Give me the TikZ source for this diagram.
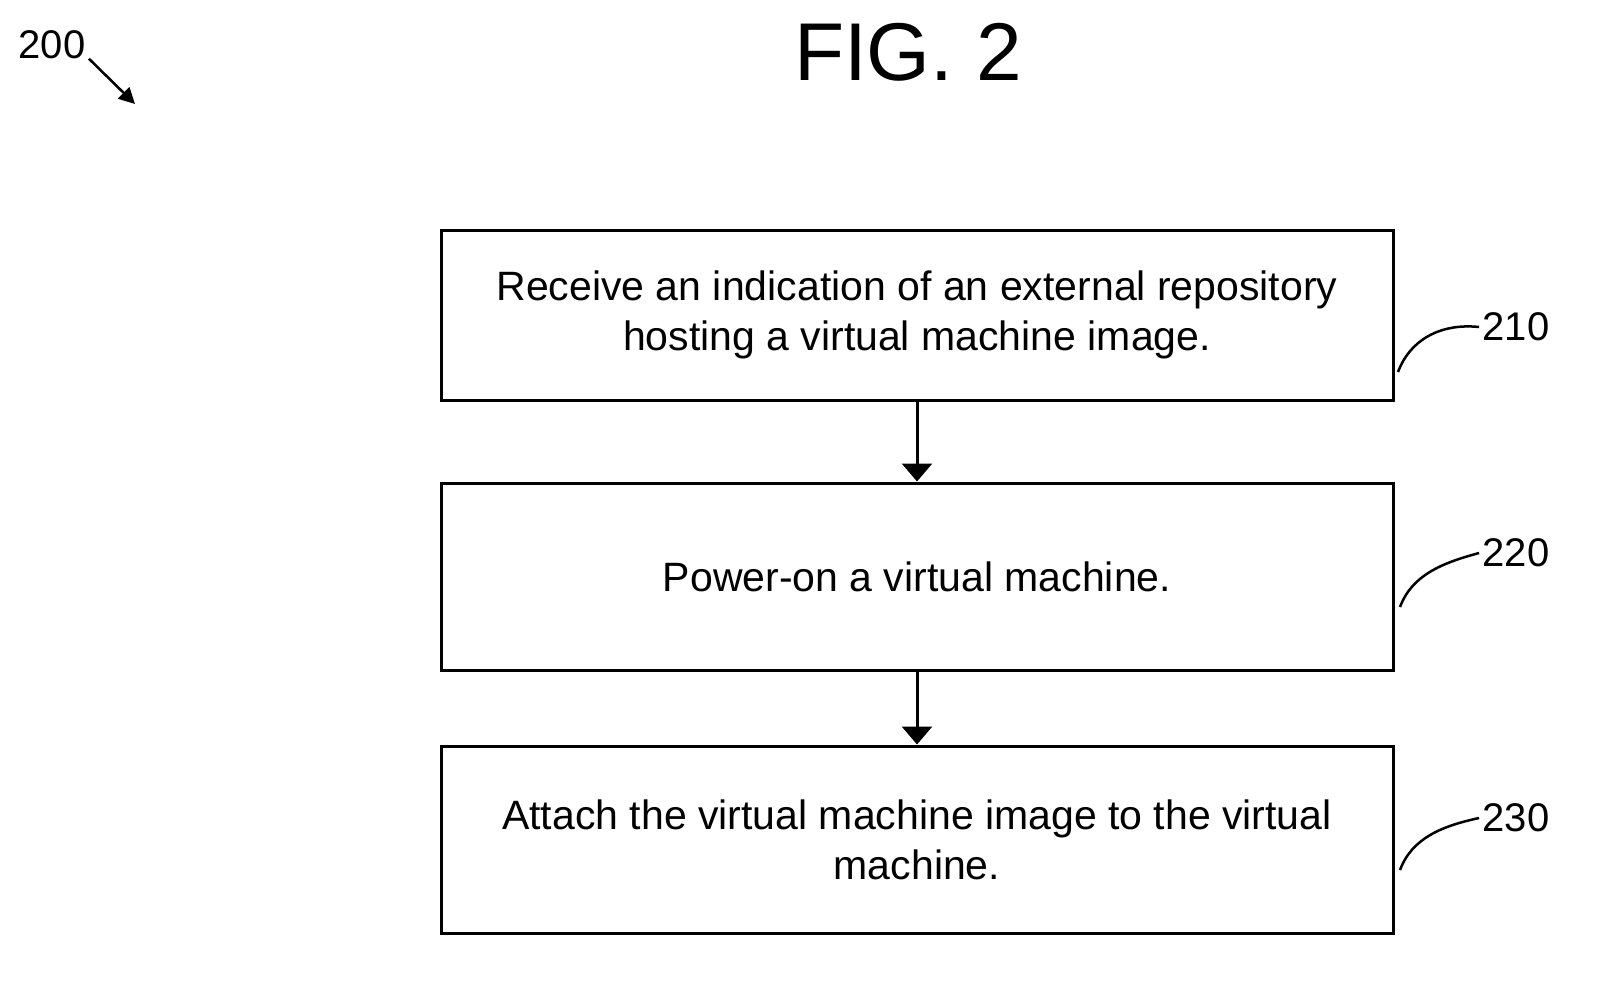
\documentclass[tikz,border=0pt]{standalone}
\usepackage{fontspec}
\setmainfont{Liberation Sans}
\usetikzlibrary{arrows.meta}
\begin{document}
\begin{tikzpicture}[x=1pt,y=-1pt,
  box/.style={draw,line width=3pt,minimum width=952pt,align=center,font=\fontsize{41}{50}\selectfont,inner sep=0pt},
  lbl/.style={font=\fontsize{40}{44}\selectfont},
  arr/.style={line width=3pt,-{Triangle[length=18pt,width=30pt]}},
  lead/.style={line width=2.5pt}]
\useasboundingbox (0,0) rectangle (1609,980);
\node[font=\fontsize{82}{90}\selectfont] (fig) at (908,52) {FIG. 2};
\node[lbl] (n200) at (52,45) {200};
\coordinate (a200) at (135,104);
\draw[line width=2.5pt,-{Triangle[length=16pt,width=16pt]}] (n200.south east) ++(0,-4) -- (a200);
\node[box,minimum height=170pt] (b1) at (917,315) {Receive an indication of an external repository\\hosting a virtual machine image.};
\node[box,minimum height=187pt] (b2) at (917,576.5) {Power-on a virtual machine.};
\node[box,minimum height=187pt] (b3) at (917,839.5) {Attach the virtual machine image to the virtual\\machine.};
\draw[arr] (b1.south) -- (b2.north);
\draw[arr] (b2.south) -- (b3.north);
\node[lbl] (n210) at (1516,327) {210};
\node[lbl] (n220) at (1516,553) {220};
\node[lbl] (n230) at (1516,818) {230};
\draw[lead] (1398,372) .. controls (1410,340) and (1440,323) .. (n210.west);
\draw[lead] (1400,607) .. controls (1412,575) and (1442,563) .. (n220.west);
\draw[lead] (1400,870) .. controls (1412,838) and (1442,826) .. (n230.west);
\end{tikzpicture}
\end{document}
